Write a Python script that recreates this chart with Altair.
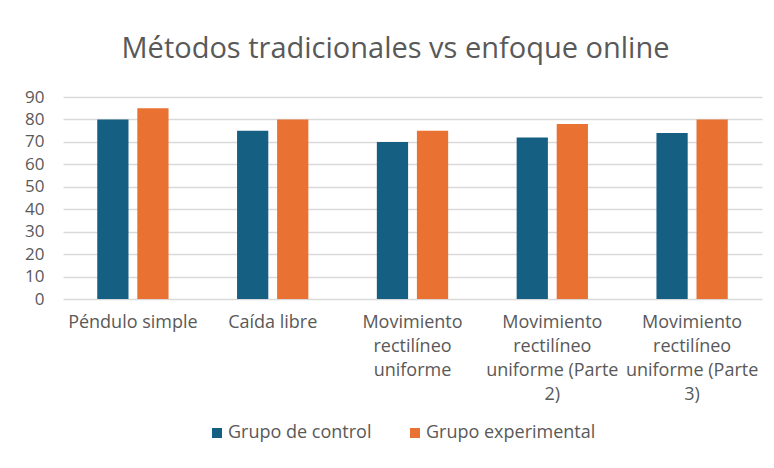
import altair as alt
import pandas as pd

categorias = [
    "Péndulo simple",
    "Caída libre",
    "Movimiento rectilíneo uniforme",
    "Movimiento rectilíneo uniforme (Parte 2)",
    "Movimiento rectilíneo uniforme (Parte 3)",
]
etiquetas = [
    ["Péndulo simple"],
    ["Caída libre"],
    ["Movimiento", "rectilíneo", "uniforme"],
    ["Movimiento", "rectilíneo", "uniforme (Parte", "2)"],
    ["Movimiento", "rectilíneo", "uniforme (Parte", "3)"],
]
series = ["Grupo de control", "Grupo experimental"]
control = [80, 75, 70, 72, 74]
experimental = [85, 80, 75, 78, 80]
colores = ["#156082", "#E97132"]
y_ticks = [0, 10, 20, 30, 40, 50, 60, 70, 80, 90]

rows = []
for c, a, b in zip(categorias, control, experimental):
    rows.append({"Categoría": c, "Grupo": series[0], "Valor": a})
    rows.append({"Categoría": c, "Grupo": series[1], "Valor": b})
df = pd.DataFrame(rows)

parts = []
for c, lines in zip(categorias, etiquetas):
    arr = "[" + ",".join("'" + l + "'" for l in lines) + "]"
    parts.append(f"datum.value == '{c}' ? {arr} : ")
label_expr = "".join(parts) + "datum.value"

FONT = "Open Sans"
TXT = "#595959"

chart = (
    alt.Chart(df)
    .mark_bar()
    .encode(
        x=alt.X(
            "Categoría:N",
            sort=categorias,
            scale=alt.Scale(paddingInner=0.49, paddingOuter=0.245),
            axis=alt.Axis(
                title=None,
                labelAngle=0,
                labelExpr=label_expr,
                labelFont=FONT,
                labelFontSize=18,
                labelColor=TXT,
                labelLineHeight=24,
                labelPadding=14,
                labelBaseline="top",
                labelLimit=300,
                ticks=False,
                domain=False,
                grid=False,
            ),
        ),
        xOffset=alt.XOffset(
            "Grupo:N", sort=series, scale=alt.Scale(paddingInner=0.22, paddingOuter=0)
        ),
        y=alt.Y(
            "Valor:Q",
            scale=alt.Scale(domain=[0, 90], nice=False),
            axis=alt.Axis(
                title=None,
                values=y_ticks,
                labelFont=FONT,
                labelFontSize=17,
                labelColor=TXT,
                labelPadding=19,
                ticks=False,
                domain=False,
                grid=True,
                gridColor="#D9D9D9",
                gridWidth=1.3,
            ),
        ),
        color=alt.Color(
            "Grupo:N",
            sort=series,
            scale=alt.Scale(domain=series, range=colores),
            legend=alt.Legend(
                title=None,
                orient="none",
                legendX=145,
                legendY=327,
                direction="horizontal",
                symbolType="square",
                symbolSize=100,
                symbolStrokeWidth=0,
                labelFont=FONT,
                labelFontSize=18,
                labelColor=TXT,
                labelOffset=2,
                labelLimit=300,
                columnPadding=34,
            ),
        ),
    )
    .properties(
        width=699,
        height=202,
        background="white",
        title=alt.TitleParams(
            "Métodos tradicionales vs enfoque online",
            font=FONT,
            fontSize=29,
            fontWeight="normal",
            color=TXT,
            anchor="middle",
            dx=-17,
            offset=24,
        ),
        padding={"left": 63, "top": 97, "right": 12, "bottom": 169},
        autosize=alt.AutoSizeParams(type="none"),
    )
    .configure_view(strokeWidth=0, stroke="transparent")
)

chart.save("out.html", embed_options={"renderer": "svg", "actions": False})
